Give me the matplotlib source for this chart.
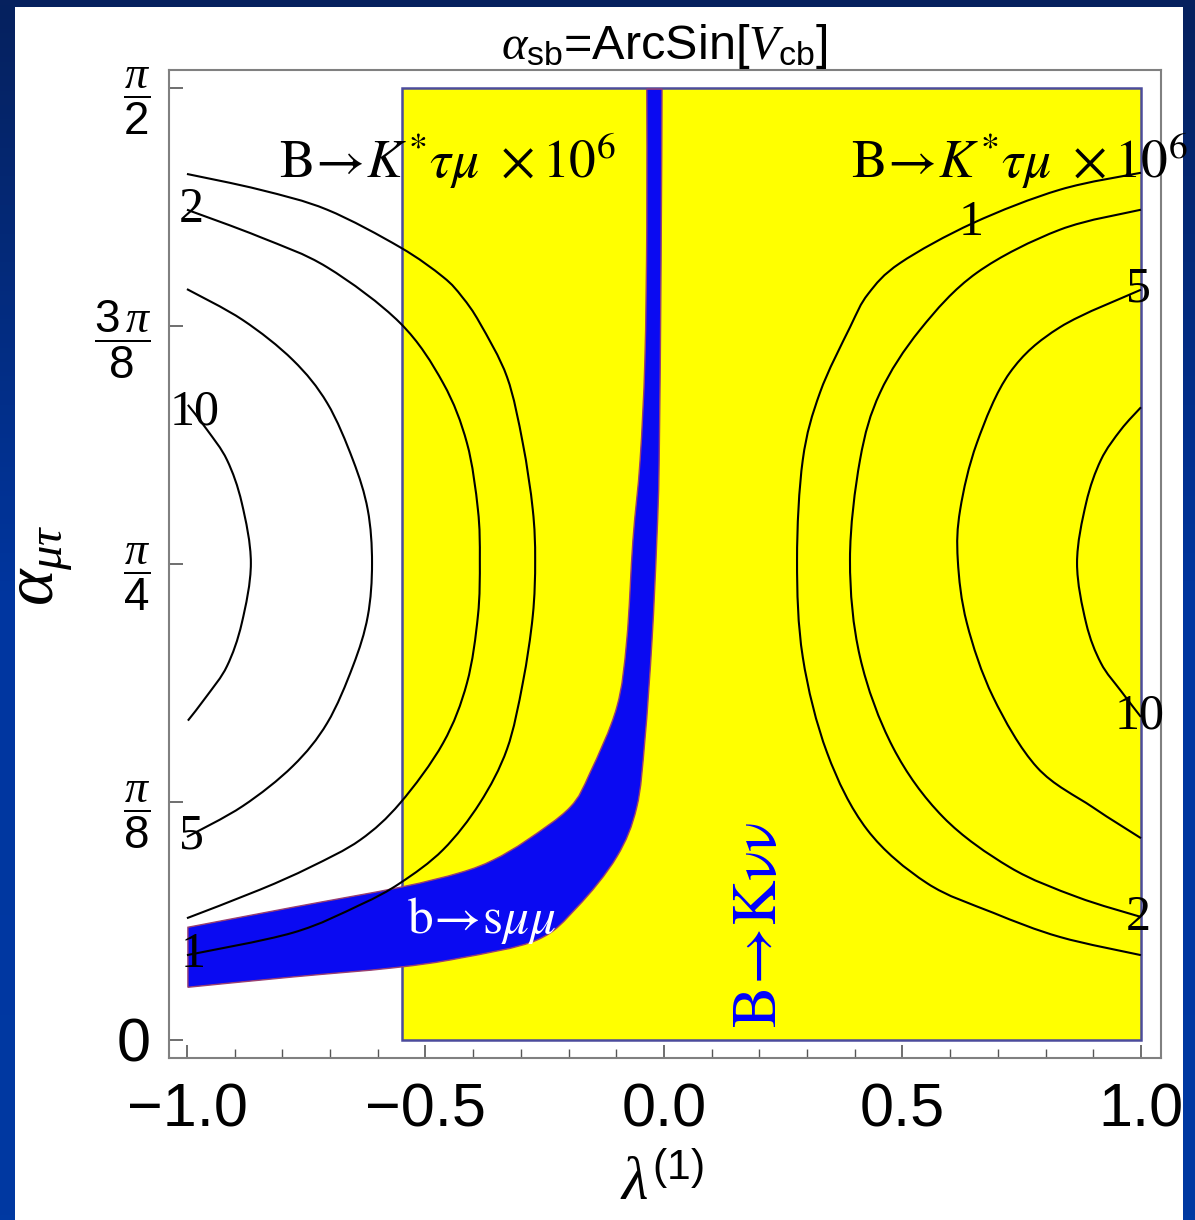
import numpy as np
import matplotlib
matplotlib.use("Agg")
import matplotlib.pyplot as plt
from matplotlib.patches import Rectangle, PathPatch
from matplotlib.path import Path

plt.rcParams['mathtext.fontset'] = 'custom'
plt.rcParams['mathtext.rm'] = 'Liberation Sans'
plt.rcParams['mathtext.it'] = 'Liberation Serif:italic'
plt.rcParams['mathtext.bf'] = 'Liberation Sans:bold'
plt.rcParams['font.family'] = ['Liberation Sans', 'DejaVu Sans']

# ---- data (lambda^(1), alpha_mutau) ----
# allowed region from B -> K nu nu (yellow box)
bknn_lam = [-0.549, 1.0]
bknn_alpha = [0.0, np.pi / 2]

# b -> s mu mu band: upper/left edge (top -> left) and lower/right edge (left -> top)
band_up_x = [-0.036, -0.036, -0.040, -0.050, -0.065, -0.078, -0.099, -0.155, -0.197,
             -0.287, -0.358, -0.428, -0.553, -0.778, -0.998]
band_up_y = [1.569, 1.341, 1.122, 0.957, 0.825, 0.660, 0.549, 0.441, 0.384,
             0.330, 0.297, 0.276, 0.252, 0.219, 0.186]
band_lo_x = [-0.998, -0.778, -0.568, -0.428, -0.266, -0.182, -0.099, -0.057, -0.040,
             -0.025, -0.015, -0.010, -0.006, -0.004]
band_lo_y = [0.087, 0.104, 0.119, 0.135, 0.165, 0.219, 0.302, 0.384, 0.495,
             0.660, 0.825, 0.957, 1.287, 1.569]

# contours of BR(B -> K* tau mu) x 10^6
levels = [1, 2, 5, 10]

left1_x = [-1.000, -0.847, -0.706, -0.553, -0.463, -0.423, -0.386, -0.329, -0.296, -0.275,
           -0.270, -0.275, -0.296, -0.329, -0.386, -0.463, -0.553, -0.637, -0.778, -1.000]
left1_y = [1.429, 1.403, 1.370, 1.308, 1.259, 1.226, 1.183, 1.094, 0.985, 0.875,
           0.792, 0.700, 0.589, 0.480, 0.391, 0.314, 0.259, 0.223, 0.177, 0.140]
left2_x = [-1.000, -0.847, -0.706, -0.553, -0.463, -0.413, -0.390, -0.386, -0.390,
           -0.413, -0.463, -0.553, -0.637, -0.742, -0.847, -1.000]
left2_y = [1.370, 1.325, 1.275, 1.183, 1.084, 0.985, 0.875, 0.792, 0.700,
           0.589, 0.490, 0.391, 0.330, 0.285, 0.248, 0.201]
left5_x = [-1.000, -0.883, -0.778, -0.706, -0.652, -0.621, -0.612, -0.621, -0.652,
           -0.706, -0.778, -0.883, -1.000]
left5_y = [1.239, 1.188, 1.122, 1.051, 0.957, 0.875, 0.787, 0.699, 0.617,
           0.523, 0.452, 0.386, 0.335]
left10_x = [-0.998, -0.958, -0.916, -0.885, -0.866, -0.885, -0.916, -0.958, -0.998]
left10_y = [1.048, 1.007, 0.957, 0.886, 0.787, 0.688, 0.617, 0.568, 0.527]

right1_x = [1.000, 0.830, 0.648, 0.495, 0.428, 0.390, 0.327, 0.291, 0.279, 0.291, 0.342,
            0.426, 0.551, 0.690, 0.830, 1.000]
right1_y = [1.431, 1.403, 1.348, 1.282, 1.231, 1.176, 1.068, 0.957, 0.792, 0.632, 0.474,
            0.347, 0.259, 0.210, 0.170, 0.140]
right2_x = [1.000, 0.830, 0.656, 0.537, 0.453, 0.411, 0.390, 0.411, 0.480, 0.585,
            0.725, 0.866, 1.000]
right2_y = [1.370, 1.337, 1.266, 1.172, 1.068, 0.957, 0.792, 0.632, 0.483, 0.368,
            0.285, 0.236, 0.203]
right5_x = [1.000, 0.830, 0.725, 0.656, 0.621, 0.616, 0.635, 0.690, 0.782, 0.899, 1.000]
right5_y = [1.238, 1.176, 1.101, 0.985, 0.875, 0.792, 0.688, 0.566, 0.450, 0.384, 0.333]
right10_x = [1.000, 0.958, 0.916, 0.885, 0.866, 0.885, 0.916, 0.958, 1.000]
right10_y = [1.044, 1.007, 0.957, 0.886, 0.787, 0.688, 0.622, 0.576, 0.533]

xticks = [-1.0, -0.5, 0.0, 0.5, 1.0]
xticklabels = ['\u22121.0', '\u22120.5', '0.0', '0.5', '1.0']
yticks = [0, np.pi / 8, np.pi / 4, 3 * np.pi / 8, np.pi / 2]
yticklabels = ['0', r'$\dfrac{\pi}{8}$', r'$\dfrac{\pi}{4}$', r'$\dfrac{3\,\pi}{8}$', r'$\dfrac{\pi}{2}$']


def smooth_segments(xs, ys):
    # bezier pieces through the read points (catmull-rom tangents)
    p = np.column_stack([xs, ys])
    verts, codes = [], []
    for i in range(len(p) - 1):
        p0 = p[i - 1] if i > 0 else p[i]
        p1, p2 = p[i], p[i + 1]
        p3 = p[i + 2] if i + 2 < len(p) else p[i + 1]
        verts += [p1 + (p2 - p0) / 6, p2 - (p3 - p1) / 6, p2]
        codes += [Path.CURVE4] * 3
    return verts, codes


def smooth_path(xs, ys):
    v, c = smooth_segments(xs, ys)
    return Path([(xs[0], ys[0])] + v, [Path.MOVETO] + c)


# ---- figure ----
fig = plt.figure(figsize=(11.95, 12.2), dpi=100)

# slide background: blue gradient with white panel
bg = fig.add_axes([0, 0, 1, 1], zorder=-10)
bg.axis('off')
grad = np.linspace(0, 1, 256).reshape(-1, 1)
bg.imshow(grad, aspect='auto', extent=[0, 1, 0, 1], origin='lower',
          cmap=matplotlib.colors.LinearSegmentedColormap.from_list(
              'bl', ['#0039a2', '#0036a0', '#06215e']))
bg.add_patch(Rectangle((0.0126, 0.0), 0.9774, 0.9943, color='white', lw=0))
bg.set_xlim(0, 1)
bg.set_ylim(0, 1)

ax = fig.add_axes([0.1414, 0.1328, 0.8301, 0.8098])
ax.set_facecolor('white')
ax.set_xlim(-1.0377, 1.0419)
ax.set_ylim(-0.0297, 1.6005)

# yellow region
ax.add_patch(Rectangle((bknn_lam[0], bknn_alpha[0]), bknn_lam[1] - bknn_lam[0],
                       bknn_alpha[1] - bknn_alpha[0], facecolor='#ffff00',
                       edgecolor='#4b4b9c', lw=1.8, zorder=1))

# blue band
vu, cu = smooth_segments(band_up_x, band_up_y)
vl, cl = smooth_segments(band_lo_x, band_lo_y)
band_verts = [(band_up_x[0], band_up_y[0])] + vu + [(band_lo_x[0], band_lo_y[0])] + vl + [(0, 0)]
band_codes = [Path.MOVETO] + cu + [Path.LINETO] + cl + [Path.CLOSEPOLY]
ax.add_patch(PathPatch(Path(band_verts, band_codes), facecolor='#0a0af2',
                       edgecolor='#9a4070', lw=1.0, zorder=2))

# contour lines
for cx, cy in [(left1_x, left1_y), (left2_x, left2_y), (left5_x, left5_y), (left10_x, left10_y),
               (right1_x, right1_y), (right2_x, right2_y), (right5_x, right5_y),
               (right10_x, right10_y)]:
    ax.add_patch(PathPatch(smooth_path(cx, cy), facecolor='none', edgecolor='black',
                           lw=1.5, zorder=3))

# contour labels
lab_kw = dict(fontsize=36, family='Liberation Serif', ha='center', va='center', zorder=4)
for lv, (lx, ly) in zip([2, 10, 5, 1], [(-0.992, 1.370), (-0.983, 1.036), (-0.990, 0.337), (-0.987, 0.140)]):
    ax.text(lx, ly, str(lv), **lab_kw)
for lv, (lx, ly) in zip([1, 5, 10, 2], [(0.644, 1.348), (0.994, 1.238), (0.998, 0.535), (0.994, 0.201)]):
    ax.text(lx, ly, str(lv), clip_on=False, **lab_kw)

# annotations
br_txt = r'$\mathrm{B}\!\rightarrow\!K^{*}\tau\mu\ \times10^{6}$'
ax.text(-0.807, 1.422, br_txt, fontsize=38.5, math_fontfamily='stix', va='baseline', zorder=4)
ax.text(0.392, 1.422, br_txt, fontsize=38.5, math_fontfamily='stix', va='baseline', zorder=4,
        clip_on=False)
ax.text(-0.539, 0.177, r'$\mathrm{b}\!\rightarrow\!\mathrm{s}\mu\mu$', fontsize=37,
        math_fontfamily='stix', color='white', va='baseline', zorder=4)
ax.text(0.201, 0.020, r'$\mathrm{B}\!\rightarrow\!\mathrm{K\nu\nu}$', fontsize=45,
        math_fontfamily='stix', color='#0000ff', rotation=90, ha='center', va='bottom', zorder=4)

# axes styling
for sp in ax.spines.values():
    sp.set_color('#808080')
    sp.set_linewidth(1.5)

ax.set_xticks(xticks, xticklabels)
ax.set_xticks(np.arange(-1.0, 1.01, 0.1), minor=True)
ax.set_yticks(yticks, yticklabels)
ax.tick_params(axis='x', which='major', direction='in', length=9.5, width=1.2, color='#555555',
               labelsize=44, pad=18, top=False)
ax.tick_params(axis='x', which='minor', direction='in', length=6.5, width=1.0, color='#555555',
               top=False)
ax.tick_params(axis='y', which='major', direction='in', length=10, width=1.2, color='#555555',
               labelsize=33, pad=13, right=False)
ax.tick_params(axis='y', which='minor', left=False, right=False)
for t in ax.get_yticklabels():
    if t.get_text() == '0':
        t.set_fontsize(44)

fig.text(0.556, 0.962, r'$\alpha_{\mathrm{sb}}$=ArcSin[$V_{\mathrm{cb}}$]', fontsize=35,
         ha='center', va='center')
fig.text(0.036, 1 - 565 / 1220, r'$\alpha_{\mu\tau}$', fontsize=50, rotation=90,
         ha='center', va='center')
fig.text(0.519, 0.006, r'$\lambda^{(1)}$', fontsize=44, ha='left', va='bottom')

fig.savefig('out.png', dpi=100)
